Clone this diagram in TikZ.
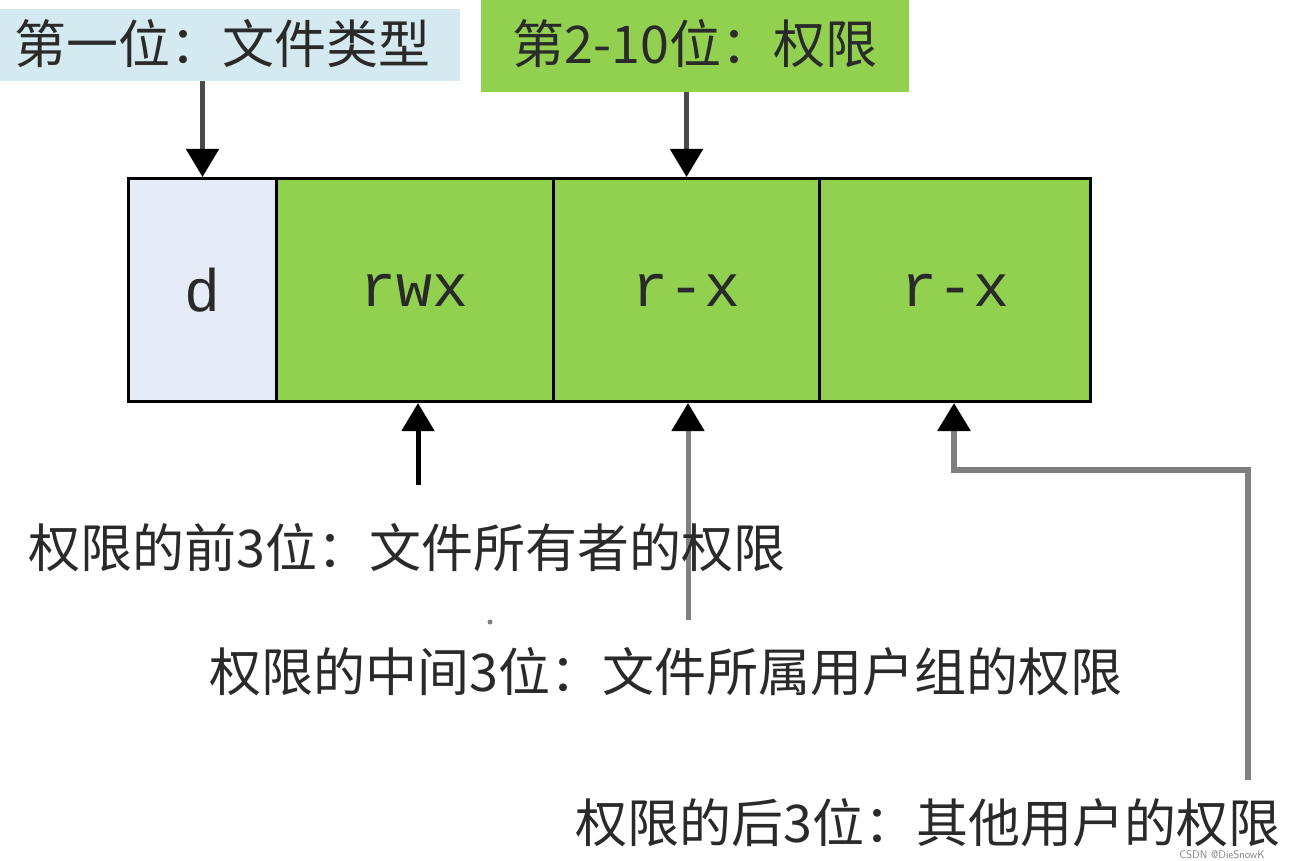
\documentclass[tikz,border=0pt]{standalone}
\usepackage{fontspec}
\newfontfamily\cjk{Noto Sans CJK SC}
\newfontfamily\monof{Liberation Mono}
\usetikzlibrary{arrows.meta}
\definecolor{lblue}{HTML}{D4EAF0}
\definecolor{pgreen}{HTML}{92D050}
\definecolor{dlav}{HTML}{E5ECF7}
\definecolor{txt}{HTML}{2A2A2A}
\definecolor{lin}{HTML}{4A4A4A}
\begin{document}
\begin{tikzpicture}[x=1pt,y=-1pt,
  cellbox/.style={draw=black, line width=3pt, fill=pgreen, minimum height=223pt,
    inner sep=0pt, anchor=north west, font=\monof\fontsize{60}{66}\selectfont, text=txt},
  labbox/.style={inner sep=0pt, anchor=north west},
  captxt/.style={inner sep=0pt, font=\cjk\fontsize{52}{60}\selectfont, text=txt},
  arrline/.style={draw=lin, line width=5pt,
    -{Triangle[width=32pt,length=28pt,color=black]}}]
\useasboundingbox (0,0) rectangle (1289,861);
% top labels
\node[labbox, fill=lblue, minimum width=460pt, minimum height=72pt] (l1) at (0,9) {};
\node[captxt] (l1t) at (222,44) {第一位：文件类型};
\node[labbox, fill=pgreen, minimum width=428pt, minimum height=92pt] (l2) at (481,0) {};
\node[captxt] (l2t) at (695,44) {第2-10位：权限};
% cells
\node[cellbox, fill=dlav, minimum width=148pt] (c1) at (127,177) {d};
\node[cellbox, minimum width=277pt] (c2) at (275,177) {rwx};
\node[cellbox, minimum width=266pt] (c3) at (552,177) {r-x};
\node[cellbox, minimum width=271pt] (c4) at (818,177) {r-x};
% top arrows
\draw[arrline] (l1.south -| c1.north) -- (c1.north);
\draw[arrline] (l2.south -| c3.north) -- (c3.north);
% bottom arrows
\coordinate (b1) at (418,485);
\coordinate (b2) at (688,620);
\coordinate (b3) at (1248,780);
\coordinate (k3) at (1248,470);
\draw[arrline, draw=black] (b1) -- (b1 |- c2.south);
\draw[arrline, draw=gray] (b2) -- (b2 |- c3.south);
\draw[arrline, draw=gray, line width=6pt] (b3) -- (k3) -| ([xshift=-1pt]c4.south);
% captions
\node[captxt] (t1) at (407,548) {权限的前3位：文件所有者的权限};
\node[captxt] (t2) at (666,672) {权限的中间3位：文件所属用户组的权限};
\node[captxt] (t3) at (928,823) {权限的后3位：其他用户的权限};
\fill[gray] (490,622) circle (2.5pt);
\node[inner sep=0pt, text=gray, font=\sffamily\fontsize{11}{13}\selectfont] (wm) at (1222,855) {CSDN @DieSnowK};
\end{tikzpicture}
\end{document}
